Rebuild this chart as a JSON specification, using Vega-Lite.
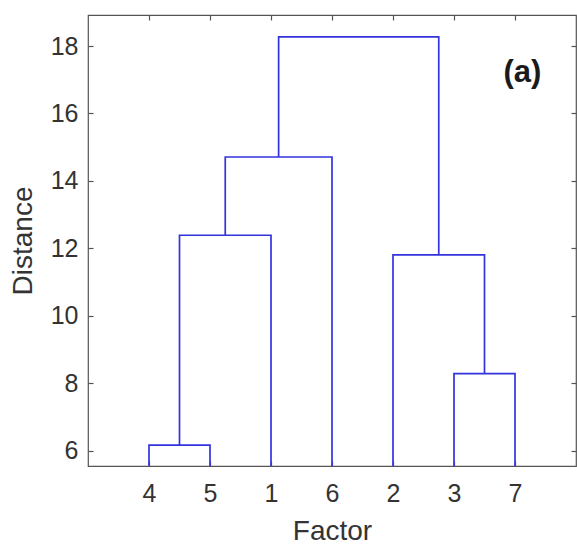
{
  "$schema": "https://vega.github.io/schema/vega-lite/v6.json",
  "width": 488,
  "height": 451,
  "autosize": "none",
  "padding": {"left": 88, "top": 15, "right": 1, "bottom": 78},
  "background": "white",
  "config": {
    "view": {"stroke": "#555555", "strokeWidth": 1.2},
    "font": "Liberation Sans",
    "axis": {
      "grid": false,
      "domain": false,
      "tickColor": "#555555",
      "tickSize": -5,
      "tickWidth": 1.2,
      "labelFont": "Liberation Sans",
      "labelFontSize": 25,
      "labelColor": "#333333",
      "titleFont": "Liberation Sans",
      "titleFontSize": 28,
      "titleFontWeight": "normal",
      "titleColor": "#333333"
    }
  },
  "datasets": {
    "links": [
      {"link": "A", "i": 0, "x": 1, "y": 0},
      {"link": "A", "i": 1, "x": 1, "y": 6.17},
      {"link": "A", "i": 2, "x": 2, "y": 6.17},
      {"link": "A", "i": 3, "x": 2, "y": 0},
      {"link": "B", "i": 0, "x": 1.5, "y": 6.17},
      {"link": "B", "i": 1, "x": 1.5, "y": 12.39},
      {"link": "B", "i": 2, "x": 3, "y": 12.39},
      {"link": "B", "i": 3, "x": 3, "y": 0},
      {"link": "C", "i": 0, "x": 2.25, "y": 12.39},
      {"link": "C", "i": 1, "x": 2.25, "y": 14.71},
      {"link": "C", "i": 2, "x": 4, "y": 14.71},
      {"link": "C", "i": 3, "x": 4, "y": 0},
      {"link": "D", "i": 0, "x": 6, "y": 0},
      {"link": "D", "i": 1, "x": 6, "y": 8.29},
      {"link": "D", "i": 2, "x": 7, "y": 8.29},
      {"link": "D", "i": 3, "x": 7, "y": 0},
      {"link": "E", "i": 0, "x": 5, "y": 0},
      {"link": "E", "i": 1, "x": 5, "y": 11.81},
      {"link": "E", "i": 2, "x": 6.5, "y": 11.81},
      {"link": "E", "i": 3, "x": 6.5, "y": 8.29},
      {"link": "F", "i": 0, "x": 3.125, "y": 14.71},
      {"link": "F", "i": 1, "x": 3.125, "y": 18.27},
      {"link": "F", "i": 2, "x": 5.75, "y": 18.27},
      {"link": "F", "i": 3, "x": 5.75, "y": 11.81}
    ],
    "label": [{"x": 7.12, "y": 17.2, "text": "(a)"}]
  },
  "layer": [
    {
      "data": {"name": "links"},
      "mark": {"type": "line", "color": "#3333dd", "strokeWidth": 1.7, "clip": true, "interpolate": "linear"},
      "encoding": {
        "x": {
          "field": "x", "type": "quantitative",
          "scale": {"domain": [0, 8], "nice": false, "zero": false},
          "axis": {
            "orient": "bottom",
            "values": [1, 2, 3, 4, 5, 6, 7],
            "labelExpr": "['','4','5','1','6','2','3','7'][datum.value]",
            "labelPadding": 20,
            "title": "Factor",
            "titlePadding": 11
          }
        },
        "y": {
          "field": "y", "type": "quantitative",
          "scale": {"domain": [5.55, 18.92], "nice": false, "zero": false},
          "axis": {
            "orient": "left",
            "values": [6, 8, 10, 12, 14, 16, 18],
            "labelPadding": 15,
            "title": "Distance",
            "titlePadding": 13
          }
        },
        "detail": {"field": "link"},
        "order": {"field": "i"}
      }
    },
    {
      "data": {"name": "label"},
      "mark": {"type": "text", "font": "Liberation Sans", "fontWeight": "bold", "fontSize": 31, "color": "#1a1a1a", "align": "center", "baseline": "middle"},
      "encoding": {
        "x": {
          "field": "x", "type": "quantitative",
          "axis": {"orient": "top", "values": [1, 2, 3, 4, 5, 6, 7], "labels": false, "title": null}
        },
        "y": {
          "field": "y", "type": "quantitative",
          "axis": {"orient": "right", "values": [6, 8, 10, 12, 14, 16, 18], "labels": false, "title": null}
        },
        "text": {"field": "text"}
      }
    }
  ],
  "resolve": {"axis": {"x": "independent", "y": "independent"}}
}
